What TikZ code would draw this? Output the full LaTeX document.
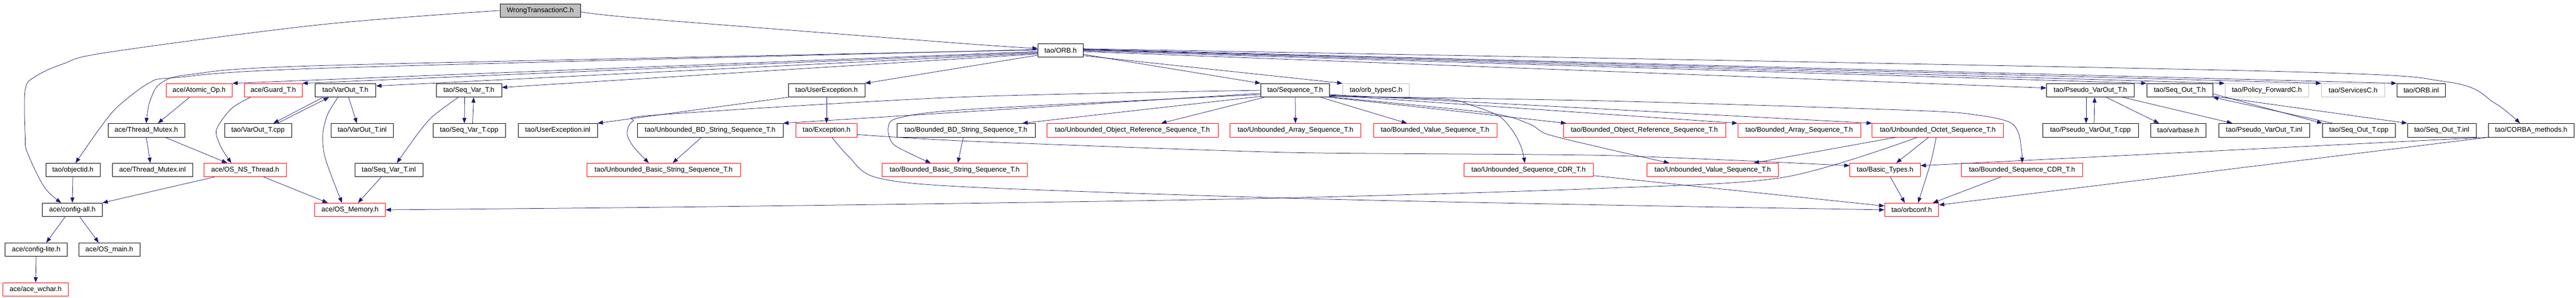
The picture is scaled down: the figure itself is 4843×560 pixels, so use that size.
\documentclass[tikz,border=0pt]{standalone}
\usepackage{fontspec}
\setmainfont{Liberation Sans}
\usetikzlibrary{arrows.meta}
\definecolor{edgec}{HTML}{191970}
\definecolor{grayb}{HTML}{BFBFBF}
\begin{document}
\begin{tikzpicture}[x=1pt,y=-1pt,
  nbox/.style={draw=black, line width=0.9pt, fill=white, rectangle, minimum height=25.5pt, inner xsep=3pt, inner ysep=2pt, font=\fontsize{13}{15}\selectfont, anchor=center},
  nred/.style={nbox, draw=red},
  ngray/.style={nbox, draw=grayb},
  nroot/.style={nbox, fill=grayb},
  conn/.style={draw=edgec, line width=0.75pt, -{Triangle[length=10pt,width=7.5pt]}},
  ]
\useasboundingbox (0,0) rectangle (4843,560);
% row 0 and 1
\node[nroot, minimum width=151.5pt] (root) at (1015.7,19.8) {WrongTransactionC.h};
\node[nbox, minimum width=85pt] (orb) at (1994,94.8) {tao/ORB.h};
% row 2
\node[nred, minimum width=124.5pt] (atomic) at (374.3,170) {ace/Atomic\_Op.h};
\node[nred, minimum width=108.5pt] (guard) at (513.8,170) {ace/Guard\_T.h};
\node[nbox, minimum width=114.8pt] (varout) at (649.4,170) {tao/VarOut\_T.h};
\node[nbox, minimum width=123pt] (seqvar) at (881.5,170) {tao/Seq\_Var\_T.h};
\node[nbox, minimum width=144pt] (userexc) at (1554,170) {tao/UserException.h};
\node[nbox, minimum width=129.5pt] (seqT) at (2435,170) {tao/Sequence\_T.h};
\node[ngray, minimum width=125.5pt] (orbtypes) at (2587,170) {tao/orb\_typesC.h};
\node[nbox, minimum width=164.5pt] (pvarout) at (3930,170) {tao/Pseudo\_VarOut\_T.h};
\node[nbox, minimum width=124pt] (seqout) at (4098,170) {tao/Seq\_Out\_T.h};
\node[ngray, minimum width=157.4pt] (polfwd) at (4261.7,170) {tao/Policy\_ForwardC.h};
\node[ngray, minimum width=119pt] (services) at (4424,170) {tao/ServicesC.h};
\node[nbox, minimum width=91.5pt] (orbinl) at (4552,170) {tao/ORB.inl};
% row 3
\node[nbox, minimum width=144pt] (tmutex) at (275,245.2) {ace/Thread\_Mutex.h};
\node[nbox, minimum width=126pt] (varoutcpp) at (485,245.2) {tao/VarOut\_T.cpp};
\node[nbox, minimum width=117.5pt] (varoutinl) at (681,245.2) {tao/VarOut\_T.inl};
\node[nbox, minimum width=136pt] (seqvarcpp) at (882,245.2) {tao/Seq\_Var\_T.cpp};
\node[nbox, minimum width=148.5pt] (userexcinl) at (1048.7,245.2) {tao/UserException.inl};
\node[nbox, minimum width=274pt] (ubdstr) at (1335,245.2) {tao/Unbounded\_BD\_String\_Sequence\_T.h};
\node[nred, minimum width=115.5pt] (exc) at (1554,245.2) {tao/Exception.h};
\node[nbox, minimum width=260pt] (bbdstr) at (1816,245.2) {tao/Bounded\_BD\_String\_Sequence\_T.h};
\node[nred, minimum width=322pt] (uobjref) at (2129,245.2) {tao/Unbounded\_Object\_Reference\_Sequence\_T.h};
\node[nred, minimum width=246pt] (uarray) at (2435.5,245.2) {tao/Unbounded\_Array\_Sequence\_T.h};
\node[nred, minimum width=232pt] (bvalue) at (2698,245.2) {tao/Bounded\_Value\_Sequence\_T.h};
\node[nred, minimum width=305pt] (bobjref) at (3091.5,245.2) {tao/Bounded\_Object\_Reference\_Sequence\_T.h};
\node[nred, minimum width=231pt] (barray) at (3382.5,245.2) {tao/Bounded\_Array\_Sequence\_T.h};
\node[nred, minimum width=246.5pt] (uoctet) at (3643,245.2) {tao/Unbounded\_Octet\_Sequence\_T.h};
\node[nbox, minimum width=180pt] (pvaroutcpp) at (3930,245.2) {tao/Pseudo\_VarOut\_T.cpp};
\node[nbox, minimum width=104pt] (varbase) at (4095,245.2) {tao/varbase.h};
\node[nbox, minimum width=171.4pt] (pvaroutinl) at (4256.7,245.2) {tao/Pseudo\_VarOut\_T.inl};
\node[nbox, minimum width=136.5pt] (seqoutcpp) at (4434.7,245.2) {tao/Seq\_Out\_T.cpp};
\node[nbox, minimum width=129pt] (seqoutinl) at (4590.5,245.2) {tao/Seq\_Out\_T.inl};
\node[nbox, minimum width=160.5pt] (corba) at (4758.7,245.2) {tao/CORBA\_methods.h};
% row 4
\node[nbox, minimum width=102pt] (objectid) at (137,320) {tao/objectid.h};
\node[nbox, minimum width=150.5pt] (tmutexinl) at (286.7,320) {ace/Thread\_Mutex.inl};
\node[nred, minimum width=154.5pt] (osns) at (461,320) {ace/OS\_NS\_Thread.h};
\node[nbox, minimum width=128pt] (seqvarinl) at (731,320) {tao/Seq\_Var\_T.inl};
\node[nred, minimum width=289.5pt] (ubasic) at (1247.7,320) {tao/Unbounded\_Basic\_String\_Sequence\_T.h};
\node[nred, minimum width=273.7pt] (bbasic) at (1794.8,320) {tao/Bounded\_Basic\_String\_Sequence\_T.h};
\node[nred, minimum width=243.5pt] (useqcdr) at (2873.7,320) {tao/Unbounded\_Sequence\_CDR\_T.h};
\node[nred, minimum width=247.5pt] (uvalue) at (3220,320) {tao/Unbounded\_Value\_Sequence\_T.h};
\node[nred, minimum width=132.5pt] (basic) at (3544,320) {tao/Basic\_Types.h};
\node[nred, minimum width=228pt] (bseqcdr) at (3801.5,320) {tao/Bounded\_Sequence\_CDR\_T.h};
% row 5
\node[nbox, minimum width=112.5pt] (configall) at (136,395) {ace/config-all.h};
\node[nred, minimum width=133pt] (osmem) at (658,395) {ace/OS\_Memory.h};
\node[nred, minimum width=101.7pt] (orbconf) at (3594,395) {tao/orbconf.h};
% row 6 and 7
\node[nbox, minimum width=116.5pt] (configlite) at (68,470) {ace/config-lite.h};
\node[nbox, minimum width=115pt] (osmain) at (205.5,470) {ace/OS\_main.h};
\node[nred, minimum width=122.5pt] (wchar) at (67,545) {ace/ace\_wchar.h};

% ---- root edges
\draw[conn] plot[smooth,tension=0.55] coordinates {(root.west) (600,46.7) (201.7,98.7) (118.6,120.3) (67.2,143.6) (47.4,168.7) (47.4,258.5) (51.4,287) (83,351.8) ([xshift=-21pt]configall.north)};
\draw[conn] plot[smooth,tension=0.5] coordinates {(root.-2) (1220,35.9) (1820,82.6) (orb.175)};
% ---- ORB to the left
\draw[conn] plot[smooth,tension=0.5] coordinates {(orb.179) (620,123) (359,140) (300.6,158) (282,190) (276.8,215) (tmutex.north)};
\draw[conn] plot[smooth,tension=0.5] coordinates {(orb.178) (620,128) (330,146) (280.7,156) (221,201) (185.8,244) ([xshift=5pt]objectid.north)};
\draw[conn] (orb.183) -- (atomic.north east);
\draw[conn] (orb.185) -- (guard.north east);
\draw[conn] (orb.187) -- (varout.8);
\draw[conn] (orb.189) -- (seqvar.5);
\draw[conn] (orb.192) -- (userexc.north east);
% ---- ORB to the right
\draw[conn] (orb.-10) -- (seqT.north west);
\draw[conn] (orb.-13) -- (orbtypes.north west);
\draw[conn] (orb.-3) -- (pvarout.177);
\draw[conn] (orb.-1) -- (seqout.north west);
\draw[conn] (orb.1) -- (polfwd.north west);
\draw[conn] (orb.2) -- (services.north west);
\draw[conn] (orb.3) -- (orbinl.north west);
\draw[conn] plot[smooth,tension=0.5] coordinates {(orb.4) (4223,133) (4600,154) (4690,194) ([xshift=-21pt]corba.north)};
% ---- ace part
\draw[conn] ([xshift=-18pt]atomic.south) -- ([xshift=22pt]tmutex.north);
\draw[conn] plot[smooth,tension=0.5] coordinates {([xshift=-43pt]guard.south) (435,204.6) (407,244) (415,276) ([xshift=-26pt]osns.north)};
\draw[conn] (tmutex.south) -- ([xshift=-4pt]tmutexinl.north);
\draw[conn] ([xshift=35pt]tmutex.south) -- ([xshift=-34pt]osns.north);
\draw[conn] ([xshift=-58pt]osns.south) -- (configall.north east);
\draw[conn] ([xshift=35pt]osns.south) -- ([xshift=-42pt]osmem.north);
\draw[conn] (objectid.south) -- (configall.north);
\draw[conn] ([xshift=-13.5pt]configall.south) -- ([xshift=19pt]configlite.north);
\draw[conn] ([xshift=14pt]configall.south) -- ([xshift=-20pt]osmain.north);
\draw[conn] (configlite.south) -- (wchar.north);
% ---- VarOut / Seq_Var
\draw[conn] ([xshift=-42pt]varout.south) -- ([xshift=29pt]varoutcpp.north);
\draw[conn] ([xshift=37pt]varoutcpp.north) -- ([xshift=-31pt]varout.south);
\draw[conn] ([xshift=6pt]varout.south) -- ([xshift=-10pt]varoutinl.north);
\draw[conn] plot[smooth,tension=0.5] coordinates {([xshift=-14pt]varout.south) (616,215) (607,251) (609,287) (620,323) ([xshift=-15pt]osmem.north)};
\draw[conn] ([xshift=-8pt]seqvar.south) -- ([xshift=-9pt]seqvarcpp.north);
\draw[conn] ([xshift=6.5pt]seqvarcpp.north) -- ([xshift=9pt]seqvar.south);
\draw[conn] plot[smooth,tension=0.5] coordinates {([xshift=-20pt]seqvar.south) (813.5,219) (786,251) ([xshift=15pt]seqvarinl.north)};
\draw[conn] ([xshift=-14pt]seqvarinl.south) -- ([xshift=15pt]osmem.north);
% ---- UserException / Exception
\draw[conn] (userexc.south west) -- (userexcinl.north east);
\draw[conn] (userexc.south) -- (exc.north);
\draw[conn] plot[smooth,tension=0.4] coordinates {(exc.-8) (1820,265.7) (2420,287) (3020,292.6) (basic.173)};
\draw[conn] plot[smooth,tension=0.5] coordinates {([xshift=10pt]exc.south) (1595,294) (1647,334) (1820,352) (2420,373) (3020,386) (orbconf.west)};
% ---- Sequence_T
\draw[conn] plot[smooth,tension=0.5] coordinates {(seqT.west) (1800,183) (1240,216) (1190,228) (1179,251) (1190,275) ([xshift=-28pt]ubasic.north)};
\draw[conn] (seqT.185) -- (ubdstr.north east);
\draw[conn] plot[smooth,tension=0.5] coordinates {(seqT.187) (1820,206) (1690,222) (1670,240) (1678,270) (1715,291) ([xshift=-45pt]bbasic.north)};
\draw[conn] (seqT.190) -- ([xshift=106pt]bbdstr.north);
\draw[conn] ([xshift=-5pt]bbdstr.south) -- ([xshift=6pt]bbasic.north);
\draw[conn] ([xshift=-16pt]ubdstr.south) -- ([xshift=17pt]ubasic.north);
\draw[conn] ([xshift=-58pt]seqT.south) -- ([xshift=54pt]uobjref.north);
\draw[conn] (seqT.south) -- (uarray.north);
\draw[conn] ([xshift=48pt]seqT.south) -- ([xshift=-53pt]bvalue.north);
\draw[conn] (seqT.south east) -- ([xshift=6pt]bobjref.north west);
\draw[conn] (seqT.-8) -- (barray.north west);
\draw[conn] (seqT.-7) -- (uoctet.north west);
\draw[conn] plot[smooth,tension=0.5] coordinates {(seqT.-10) (3020,190) (3600,208) (3720,217) (3778,230) (3795,251) (3801,287) (bseqcdr.north)};
\draw[conn] plot[smooth,tension=0.5] coordinates {(seqT.-9) (2716,187) (2764,197.5) (2819,219) (2847,251) (2861,280) ([xshift=-7pt]useqcdr.north)};
\draw[conn] plot[smooth,tension=0.5] coordinates {(seqT.-11) (2795,212) (2874.5,233) (2910,253) (3020,280) ([xshift=-82pt]uvalue.north)};
% ---- Octet and friends
\draw[conn] ([xshift=-78pt]uoctet.south) -- ([xshift=77pt]uvalue.north);
\draw[conn] ([xshift=-17pt]uoctet.south) -- ([xshift=21pt]basic.north);
\draw[conn] plot[smooth,tension=0.5] coordinates {([xshift=-3pt]uoctet.south) (3630,305) ([xshift=12pt]orbconf.north)};
\draw[conn] plot[smooth,tension=0.5] coordinates {([xshift=-38pt]uoctet.south) (3352,334) (3000,355) (2400,373) (1800,383) (1200,390.6) (osmem.east)};
\draw[conn] ([xshift=10pt]basic.south) -- ([xshift=-13pt]orbconf.north);
\draw[conn] (useqcdr.-5) -- (orbconf.172);
\draw[conn] ([xshift=-40pt]bseqcdr.south) -- ([xshift=40pt]orbconf.north);
\draw[conn] (corba.south west) -- (basic.7);
\draw[conn] (corba.south west) -- (orbconf.10);
% ---- Pseudo_VarOut / Seq_Out
\draw[conn] ([xshift=-8pt]pvarout.south) -- ([xshift=-8pt]pvaroutcpp.north);
\draw[conn] ([xshift=7pt]pvaroutcpp.north) -- ([xshift=8pt]pvarout.south);
\draw[conn] ([xshift=30pt]pvarout.south) -- ([xshift=-36pt]varbase.north);
\draw[conn] ([xshift=61pt]pvarout.south) -- ([xshift=-60pt]pvaroutinl.north);
\draw[conn] (seqout.-6) -- (seqoutcpp.north west);
\draw[conn] ([xshift=19pt]seqoutcpp.north west) -- (seqout.south east);
\draw[conn] (seqout.-10) -- (seqoutinl.north west);
\end{tikzpicture}
\end{document}
